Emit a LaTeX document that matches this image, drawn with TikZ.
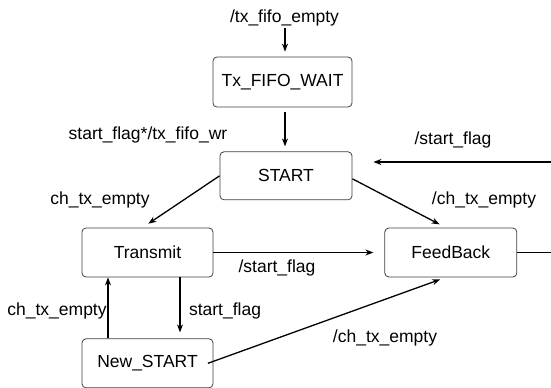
\documentclass[tikz,border=0pt]{standalone}
\usepackage{fontspec}
\setmainfont{Liberation Sans}
\usetikzlibrary{positioning,calc,arrows.meta}
\tikzset{
  figfont/.style={font=\fontsize{17.5bp}{20bp}\selectfont},
  figstate/.style={draw=black!75, line width=0.8bp, rounded corners=4pt, align=center, inner sep=0pt,
    fill=white, minimum width=132bp, minimum height=49bp},
  figlabel/.style={inner sep=0pt},
  figarrow/.style={-{Stealth[length=8bp, width=6bp]}, line width=1.3bp},
  figline/.style={line width=0.9bp},
}

\begin{document}
\begin{tikzpicture}[figfont, x=1bp, y=-1bp]
  \useasboundingbox (0,0) rectangle (551,387);
  % States
  \node[figstate, minimum width=139bp, minimum height=50bp] (TxWait) at (282.5,82) {Tx\_FIFO\_WAIT};
  \node[figstate, below=44bp of TxWait, xshift=3.5bp, minimum height=48bp] (Start) {START};
  \node[figstate, minimum width=131bp] (Transmit) at (147.5,252.5) {Transmit};
  \node[figstate, right=171bp of Transmit] (FeedBack) {FeedBack};
  \node[figstate, minimum width=131bp, below=61bp of Transmit] (NewStart) {New\_START};

  % Free ends at the top and at the right border
  \coordinate (TopIn) at (285,28);
  \coordinate (RightIn) at (551,162);
  \coordinate (RightOut) at (551,255);

  % Transition labels
  \node[figlabel] (lTopIn) at (284.5,18) {/tx\_fifo\_empty};
  \node[figlabel] (lWaitStart) at (148,135) {start\_flag*/tx\_fifo\_wr};
  \node[figlabel] (lRightIn) at (453,140) {/start\_flag};
  \node[figlabel] (lStartTx) at (100,200) {ch\_tx\_empty};
  \node[figlabel] (lStartFb) at (484,200) {/ch\_tx\_empty};
  \node[figlabel] (lTxFb) at (277,268) {/start\_flag};
  \node[figlabel] (lNewTx) at (57,311) {ch\_tx\_empty};
  \node[figlabel] (lTxNew) at (225,311) {start\_flag};
  \node[figlabel] (lNewFb) at (385,338) {/ch\_tx\_empty};

  % Transitions
  \draw[figarrow, shorten >=5bp] (TopIn) -- (TopIn |- TxWait.north);
  \draw[figarrow, shorten <=5bp, shorten >=5bp] (TopIn |- TxWait.south) -- (TopIn |- Start.north);
  \draw[figarrow, shorten >=21bp] (RightIn) -- (Start.east |- RightIn);
  \draw[figarrow, shorten >=7bp] (Start.west) -- ([xshift=-5bp]Transmit.north);
  \draw[figarrow, shorten >=7bp] ([yshift=-3bp]Start.east) -- ([xshift=-5bp]FeedBack.north);
  \draw[figarrow, shorten >=11bp] (Transmit.east) -- (FeedBack.west);
  \draw[figarrow, shorten >=6bp] ([xshift=-5.5bp]NewStart.east) -- ([xshift=-5bp]FeedBack.south);
  \draw[figarrow] ([xshift=-39.5bp]NewStart.north) -- ([xshift=-39.5bp]Transmit.south);
  \draw[figarrow, shorten >=6bp] ([xshift=32.5bp]Transmit.south) -- ([xshift=32.5bp]NewStart.north);
  \draw[figline] (FeedBack.east) -- (FeedBack.east -| RightOut);
\end{tikzpicture}
\end{document}
